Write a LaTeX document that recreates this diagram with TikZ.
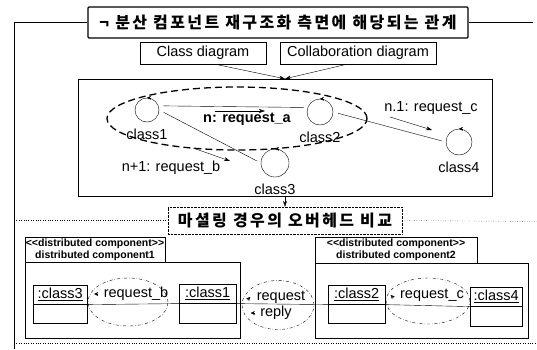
\documentclass[tikz,border=0pt]{standalone}
\usepackage{fontspec}
\setmainfont{Liberation Sans}
\newfontfamily\kr{Noto Sans CJK KR}
\usetikzlibrary{arrows.meta,positioning,shapes.geometric,shapes.multipart}

\begin{document}
\begin{tikzpicture}[
	x=1pt,
	y=-1pt,
	font=\fontsize{14.5}{16}\selectfont,
	heading/.style={
		rectangle,
		draw=black,
		line width=1.2pt,
		rounded corners=1pt,
		inner sep=0pt,
		minimum width=380pt,
		minimum height=31pt,
		font=\kr\bfseries\fontsize{16}{18}\selectfont\addfontfeature{LetterSpace=15}
	},
	subheading/.style={
		rectangle,
		draw=black,
		densely dotted,
		inner sep=0pt,
		minimum width=234pt,
		minimum height=27pt,
		font=\kr\bfseries\fontsize{16}{18}\selectfont\addfontfeature{LetterSpace=15}
	},
	diagram/.style={
		rectangle,
		draw=black,
		thin,
		inner sep=0pt,
		minimum height=22pt
	},
	frame/.style={
		rectangle,
		draw=black,
		thin,
		inner sep=0pt
	},
	cls/.style={
		circle,
		draw=black,
		thin,
		inner sep=0pt
	},
	loop/.style={
		-{Stealth[length=4pt,width=4pt]}
	},
	link/.style={
		thin,
		shorten <=5pt,
		shorten >=4pt
	},
	msg/.style={
		thin,
		-{Stealth[length=6pt,width=4pt]}
	},
	group/.style={
		ellipse,
		draw=black,
		dash pattern=on 7pt off 4pt,
		line width=1.3pt,
		inner sep=0pt
	},
	stereo/.style={
		rectangle,
		draw=black,
		thin,
		align=center,
		inner sep=0pt,
		font=\bfseries\fontsize{10.5}{12}\selectfont
	},
	object/.style={
		rectangle split,
		rectangle split parts=2,
		draw=black,
		thin,
		inner sep=0pt,
		anchor=north west
	},
	bubble/.style={
		ellipse,
		draw=black,
		dash dot,
		thin,
		inner sep=0pt
	},
	msgmark/.style={
		-{Stealth[length=4pt,width=4pt]}
	},
]

\useasboundingbox (0,0) rectangle (537,349);

% outer frame and headings
\node[heading] (title) at (278,22.5) {¬ 분산 컴포넌트 재구조화 측면에 해당되는 관계};
\coordinate (ftop) at (14,22.5);
\coordinate (fbot) at (14,349);
\coordinate (fright) at (533,22.5);
\draw[thin] (fbot) -- (ftop) -- (title.west);
\draw[thin] (title.east) -- (fright);
\coordinate (bl) at (14,343);
\coordinate (br) at (537,343);
\draw[dotted] (bl) -- (br);

\node[diagram, minimum width=126pt] (cdiag) at (203,53) {Class diagram};
\node[diagram, minimum width=156pt] (collab) at (358,53) {Collaboration diagram};

% collaboration of the classes
\node[frame, minimum width=414pt, minimum height=117pt] (collbox) at (285,137.5) {};
\draw[msg] ([xshift=12pt]cdiag.south) -- (collbox.north);
\draw[msg] ([xshift=-11pt]collab.south) -- (collbox.north);

\node[group, minimum width=260pt, minimum height=63pt] (grp) at (237,118.5) {};

\node[cls, minimum size=24pt] (c1) at (147,110) {};
\node[cls, minimum size=26pt] (c2) at (320,112) {};
\node[cls, minimum size=28pt] (c3) at (275,163) {};
\node[cls, minimum size=26pt] (c4) at (459,142) {};

\node[below=3pt of c1] (c1n) {class1};
\node[below=3pt of c2] (c2n) {class2};
\node[below=3pt of c3] (c3n) {class3};
\node[below=3pt of c4] (c4n) {class4};

\draw[loop] ([xshift=4pt]c1.north) -- (c1.north);
\draw[loop] ([xshift=4pt]c2.north) -- (c2.north);
\draw[loop] ([xshift=4pt]c3.north) -- (c3.north);
\draw[loop] ([xshift=4pt]c4.north) -- (c4.north);

\draw[link] (c1.20) -- (c2.160);
\draw[link] (c1.east) -- (c3.west);
\draw[link] (c2.east) -- (c4.west);

\coordinate (ma1) at (215,111);
\coordinate (ma2) at (265,111);
\draw[msg] (ma1) -- (ma2);
\node[font=\bfseries\fontsize{14.5}{16}\selectfont] (ma) at (247,119) {n: request\_a};

\coordinate (mb1) at (193,148);
\coordinate (mb2) at (230,161);
\draw[msg] (mb1) -- (mb2);
\node (mb) at (171,168) {n+1: request\_b};

\coordinate (mc1) at (390,117);
\coordinate (mc2) at (432,130);
\draw[msg] (mc1) -- (mc2);
\node (mc) at (431,108) {n.1: request\_c};

% marshalling between the two components
\node[subheading] (overhead) at (285,220.5) {마셜링 경우의 오버헤드 비교};
\draw[msg] (collbox.south) -- (overhead.north);
\coordinate (ml) at (14,220.5);
\coordinate (mr) at (537,221.5);
\draw[dotted] (ml) -- (overhead.west);
\draw[dotted] (overhead.east) -- (mr);

\node[stereo, minimum width=140pt, minimum height=25pt] (st1) at (95,249.5) {<\kern0pt<distributed component>\kern0pt>\\distributed component1};
\node[frame, minimum width=215pt, minimum height=76pt] (comp1) at (132.5,300) {};

\node[stereo, minimum width=162pt, minimum height=26pt] (st2) at (396,250) {<\kern0pt<distributed component>\kern0pt>\\distributed component2};
\node[frame, minimum width=213pt, minimum height=75pt] (comp2) at (421.5,300.5) {};

\node[object, minimum width=54pt] (o3) at (33,285) {\rule[-6pt]{0pt}{19pt}\underline{:class3}\nodepart{two}\rule{0pt}{18pt}};
\node[object, minimum width=57pt] (o1) at (179,284) {\rule[-6pt]{0pt}{19pt}\underline{:class1}\nodepart{two}\rule{0pt}{19pt}};
\node[object, minimum width=57pt] (o2) at (328,285) {\rule[-6pt]{0pt}{19pt}\underline{:class2}\nodepart{two}\rule{0pt}{18pt}};
\node[object, minimum width=52pt] (o4) at (470,287) {\rule[-6pt]{0pt}{19pt}\underline{:class4}\nodepart{two}\rule{0pt}{19pt}};

\draw[thin] (o3.text split east) -- (o1.text split west);
\draw[thin] (o1.text split east) -- (o2.text split west);
\draw[thin] (o2.text split east) -- (o4.text split west);

\node[bubble, minimum width=80pt, minimum height=48pt] (eb) at (128,302) {};
\node[bubble, minimum width=72pt, minimum height=49pt] (er) at (278,305) {};
\node[bubble, minimum width=84pt, minimum height=46pt] (ec) at (428,301) {};

\node (rb) at (136,294) {request\_b};
\node (rq) at (281,297) {request};
\node (rp) at (276,313) {reply};
\node (rc) at (432,295) {request\_c};

\draw[msgmark] ([xshift=-2pt]rb.west) -- ([xshift=-6pt]rb.west);
\draw[msgmark] ([xshift=-6pt,yshift=-3pt]rq.west) -- ([xshift=-3pt]rq.west);
\draw[msgmark] ([xshift=-2pt]rp.west) -- ([xshift=-6pt]rp.west);
\draw[msgmark] ([xshift=-3pt,yshift=-3pt]rc.west) -- ([xshift=-6pt]rc.west);

\end{tikzpicture}
\end{document}
